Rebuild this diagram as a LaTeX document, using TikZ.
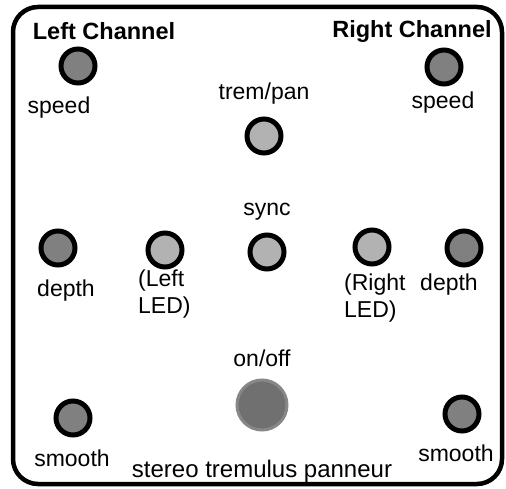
\documentclass[tikz,border=0pt]{standalone}
\usepackage{fontspec}
\setmainfont{Liberation Sans}
\usetikzlibrary{positioning}

\begin{document}
\begin{tikzpicture}[x=1pt, y=1pt,
    knob/.style={circle, minimum size=34pt, inner sep=0pt, draw=black, line width=5pt, fill=black!50},
    led/.style={knob, fill=black!30},
    lbl/.style={inner sep=0pt, font=\fontsize{23}{27}\selectfont},
    head/.style={inner sep=0pt, font=\fontsize{23.5}{27}\selectfont\bfseries}]
    \useasboundingbox (0,0) rectangle (506,-489);
    % Panel
    \draw[line width=4.5pt, rounded corners=25pt] (13,-7) rectangle (502,-484);
    % Left Channel
    \node[head] (Left-title) at (104,-31) {Left Channel};
    \foreach \n/\x/\y in {speed/78/66, depth/58/248, smooth/73/418} {
        \node[knob] (Left-\n) at (\x,-\y) {};
    }
    % Right Channel
    \node[head] (Right-title) at (412,-31) {Right Channel};
    \foreach \n/\x/\y in {speed/444/67, depth/464/248, smooth/462/414} {
        \node[knob] (Right-\n) at (\x,-\y) {};
    }
    % Middle
    \node[led] (Trem) at (264,-136) {};
    \node[led] (Sync) at (267,-252) {};
    \node[led] (Led-L) at (165,-250) {};
    \node[led] (Led-R) at (372,-247) {};
    \node[circle, minimum size=50pt, inner sep=0pt, draw=black!47, line width=3pt, fill=black!56] (Onoff) at (262,-405) {};
    % Labels
    \node[lbl] (Left-speed-lbl) at (59,-108) {speed};
    \node[lbl] (Left-depth-lbl) at (66,-291) {depth};
    \node[lbl] (Left-smooth-lbl) at (72,-458) {smooth};
    \node[lbl] (Right-speed-lbl) at (443,-103) {speed};
    \node[lbl] (Right-depth-lbl) at (449,-285) {depth};
    \node[lbl] (Right-smooth-lbl) at (456,-453) {smooth};
    \node[lbl, above=12pt of Trem] (Trem-lbl) {trem/pan};
    \node[lbl, above=12pt of Sync] (Sync-lbl) {sync};
    \node[lbl, above=12pt of Onoff] (Onoff-lbl) {on/off};
    \node[lbl, align=left, anchor=west] (Led-L-lbl) at (138,-294) {(Left\\LED)};
    \node[lbl, align=left, anchor=west] (Led-R-lbl) at (344,-298) {(Right\\LED)};
    \node[lbl, font=\fontsize{24}{27}\selectfont] (Name) at (262,-471) {stereo tremulus panneur};
\end{tikzpicture}
\end{document}
